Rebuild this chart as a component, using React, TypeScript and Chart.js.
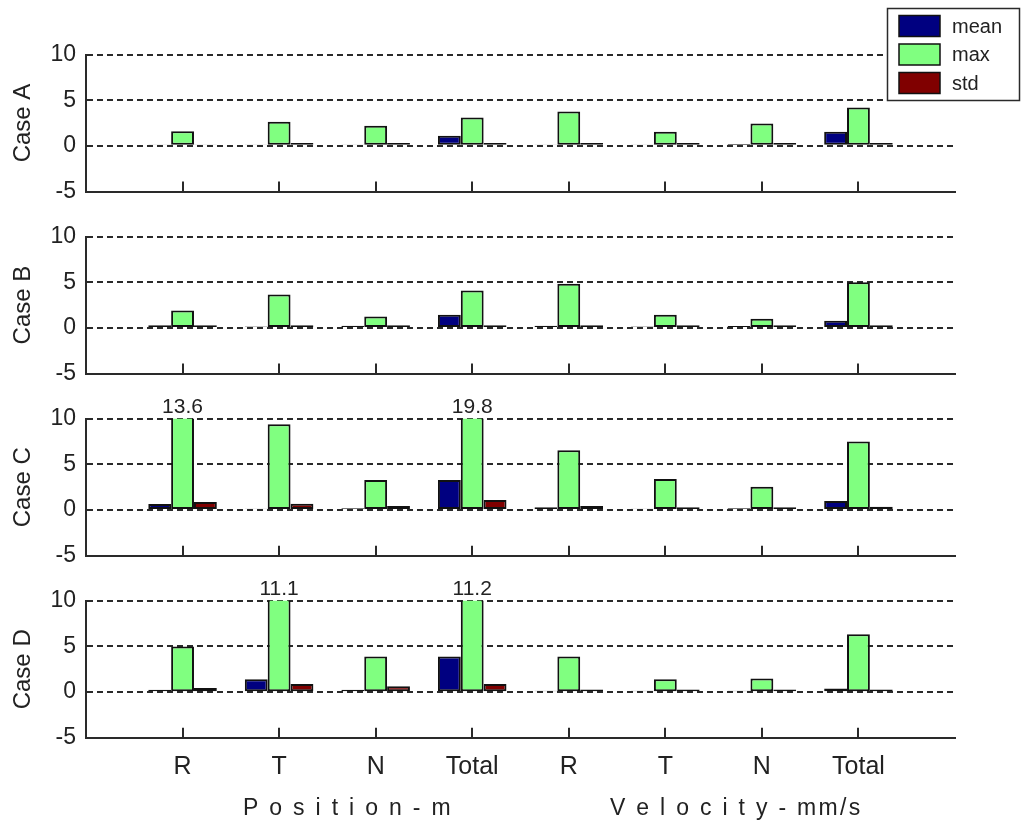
import React, { useEffect, useRef } from 'react';
import { Chart, registerables } from 'chart.js';

Chart.register(...registerables);

// ---------- data ----------
const categories = ['', 'R', 'T', 'N', 'Total', 'R', 'T', 'N', 'Total', ''];
const seriesNames = ['mean', 'max', 'std'];
const caseNames = ['Case A', 'Case B', 'Case C', 'Case D'];
const groupTitles = ['P o s i t i o n - m', 'V e l o c i t y - mm/s'];

const caseAMean = [0.15, 0.15, 0.15, 1.1, 0.15, 0.15, 0.2, 1.55];
const caseAMax = [1.6, 2.65, 2.2, 3.1, 3.75, 1.55, 2.45, 4.2];
const caseAStd = [0.15, 0.3, 0.3, 0.3, 0.3, 0.3, 0.3, 0.3];

const caseBMean = [0.3, 0.15, 0.25, 1.45, 0.25, 0.15, 0.2, 0.8];
const caseBMax = [1.9, 3.65, 1.25, 4.1, 4.85, 1.45, 1.0, 5.0];
const caseBStd = [0.3, 0.3, 0.3, 0.3, 0.3, 0.3, 0.3, 0.3];

const caseCMean = [0.65, 0.15, 0.2, 3.3, 0.3, 0.15, 0.2, 1.0];
const caseCMax = [13.6, 9.4, 3.3, 19.8, 6.55, 3.4, 2.55, 7.5];
const caseCStd = [0.87, 0.7, 0.45, 1.1, 0.45, 0.3, 0.3, 0.35];

const caseDMean = [0.25, 1.4, 0.25, 3.9, 0.15, 0.15, 0.15, 0.4];
const caseDMax = [5.0, 11.1, 3.9, 11.2, 3.9, 1.4, 1.5, 6.35];
const caseDStd = [0.45, 0.9, 0.65, 0.9, 0.3, 0.3, 0.3, 0.3];

const yMin = -5;
const yMax = 10;
const yStep = 5;

const caseSeries = [
  [caseAMean, caseAMax, caseAStd],
  [caseBMean, caseBMax, caseBStd],
  [caseCMean, caseCMax, caseCStd],
  [caseDMean, caseDMax, caseDStd],
];

// ---------- styles / layout ----------
const W = 1021;
const H = 824;
const FONT = '"Liberation Sans", Arial, sans-serif';
const seriesColors = ['#000080', '#80ff80', '#800000'];
const INK = '#222';
const LINE = '#2a2a2a';
const panelTops = [54.5, 236.6, 418.7, 600.8];
const panelHeight = 137;
const plotLeft = 86;
const plotRight = 955;
const xAxisHeightLast = 60;

const legendPlugin = {
  id: 'boxLegend',
  afterDraw(chart: any) {
    const ctx = chart.ctx;
    ctx.save();
    ctx.fillStyle = '#fff';
    ctx.fillRect(887, 8, 133, 92);
    ctx.strokeStyle = LINE;
    ctx.lineWidth = 1.5;
    ctx.strokeRect(887.5, 8.5, 132, 92);
    chart.data.datasets.forEach((ds: any, i: number) => {
      const cy = 26 + i * 28.5;
      ctx.fillStyle = ds.backgroundColor;
      ctx.fillRect(899, cy - 10.5, 41, 21);
      ctx.strokeStyle = '#111';
      ctx.lineWidth = 1.5;
      ctx.strokeRect(899, cy - 10.5, 41, 21);
      ctx.fillStyle = INK;
      ctx.font = `20px ${FONT}`;
      ctx.textAlign = 'left';
      ctx.textBaseline = 'middle';
      ctx.fillText(ds.label, 952, cy + 1);
    });
    ctx.restore();
  },
};

const clippedLabelPlugin = {
  id: 'clippedLabels',
  afterDatasetsDraw(chart: any) {
    const ctx = chart.ctx;
    const ys = chart.scales.y;
    const meta = chart.getDatasetMeta(1);
    const data = chart.data.datasets[1].data;
    ctx.save();
    ctx.font = `21px ${FONT}`;
    ctx.fillStyle = INK;
    ctx.textAlign = 'center';
    ctx.textBaseline = 'alphabetic';
    data.forEach((v: number | null, i: number) => {
      if (v != null && v > ys.max) {
        ctx.fillText(v.toFixed(1), meta.data[i].x, ys.getPixelForValue(ys.max) - 6);
      }
    });
    ctx.restore();
  },
};

const tickMarkPlugin = {
  id: 'innerTicks',
  afterDraw(chart: any) {
    const ctx = chart.ctx;
    const xs = chart.scales.x;
    const b = chart.chartArea.bottom;
    ctx.save();
    ctx.strokeStyle = LINE;
    ctx.lineWidth = 2;
    ctx.beginPath();
    for (let i = 1; i < categories.length - 1; i++) {
      const x = Math.round(xs.getPixelForValue(i));
      ctx.moveTo(x, b);
      ctx.lineTo(x, b - 10);
    }
    ctx.stroke();
    ctx.restore();
  },
};

const groupTitleLeft = [243, 610];
const groupTitleBaseline = 815;

const groupTitlePlugin = {
  id: 'groupTitles',
  afterDraw(chart: any) {
    const ctx = chart.ctx;
    ctx.save();
    ctx.font = `23px ${FONT}`;
    (ctx as any).letterSpacing = '2.3px';
    ctx.fillStyle = INK;
    ctx.textAlign = 'left';
    ctx.textBaseline = 'alphabetic';
    groupTitles.forEach((t, i) => ctx.fillText(t, groupTitleLeft[i], groupTitleBaseline));
    ctx.restore();
  },
};

function makeConfig(idx: number): any {
  const isLast = idx === caseNames.length - 1;
  const top = panelTops[idx];
  const xh = isLast ? xAxisHeightLast : 0;
  const bottom = H - (top + panelHeight) - xh;
  const plugins: any[] = [clippedLabelPlugin, tickMarkPlugin];
  if (idx === 0) plugins.push(legendPlugin);
  if (isLast) plugins.push(groupTitlePlugin);
  return {
    type: 'bar',
    data: {
      labels: categories,
      datasets: seriesNames.map((name, s) => ({
        label: name,
        data: [null, ...caseSeries[idx][s], null],
        backgroundColor: seriesColors[s],
        borderColor: '#111',
        borderWidth: 2,
        borderSkipped: false,
        categoryPercentage: 0.71,
        barPercentage: 1,
        clip: 0,
      })),
    },
    options: {
      responsive: false,
      animation: false,
      events: [],
      layout: { padding: { top, bottom, left: 0, right: W - plotRight } },
      plugins: { legend: { display: false }, tooltip: { enabled: false } },
      scales: {
        x: {
          type: 'category',
          offset: false,
          grid: { display: false, offset: false, drawTicks: false },
          border: { display: true, color: LINE, width: 2 },
          ticks: {
            display: isLast,
            autoSkip: false,
            maxRotation: 0,
            minRotation: 0,
            padding: 14,
            color: INK,
            font: { family: FONT, size: 25 },
          },
          afterFit: (s: any) => {
            s.height = xh;
          },
        },
        y: {
          min: yMin,
          max: yMax,
          ticks: {
            stepSize: yStep,
            padding: 10,
            color: INK,
            font: { family: FONT, size: 23 },
          },
          grid: {
            drawTicks: false,
            lineWidth: 2,
            color: (c: any) => (c.tick && c.tick.value === yMin ? 'rgba(0,0,0,0)' : LINE),
          },
          border: { display: true, color: LINE, width: 2, dash: [6, 4] },
          title: {
            display: true,
            text: caseNames[idx],
            color: INK,
            font: { family: FONT, size: 24 },
            padding: { top: 9, bottom: 0 },
          },
          afterFit: (s: any) => {
            s.width = plotLeft;
          },
        },
      },
    },
    plugins,
  };
}

export default function App() {
  const refs = [useRef<HTMLCanvasElement>(null), useRef<HTMLCanvasElement>(null), useRef<HTMLCanvasElement>(null), useRef<HTMLCanvasElement>(null)];

  useEffect(() => {
    const charts = refs.map((r, i) => new Chart(r.current as HTMLCanvasElement, makeConfig(i)));
    return () => charts.forEach((c) => c.destroy());
  }, []);

  return (
    <div style={{ position: 'absolute', left: 0, top: 0, width: W, height: H, background: '#fff' }}>
      {refs.map((r, i) => (
        <canvas
          key={i}
          ref={r}
          width={W}
          height={H}
          style={{ position: 'absolute', left: 0, top: 0, width: W, height: H }}
        />
      ))}
    </div>
  );
}
